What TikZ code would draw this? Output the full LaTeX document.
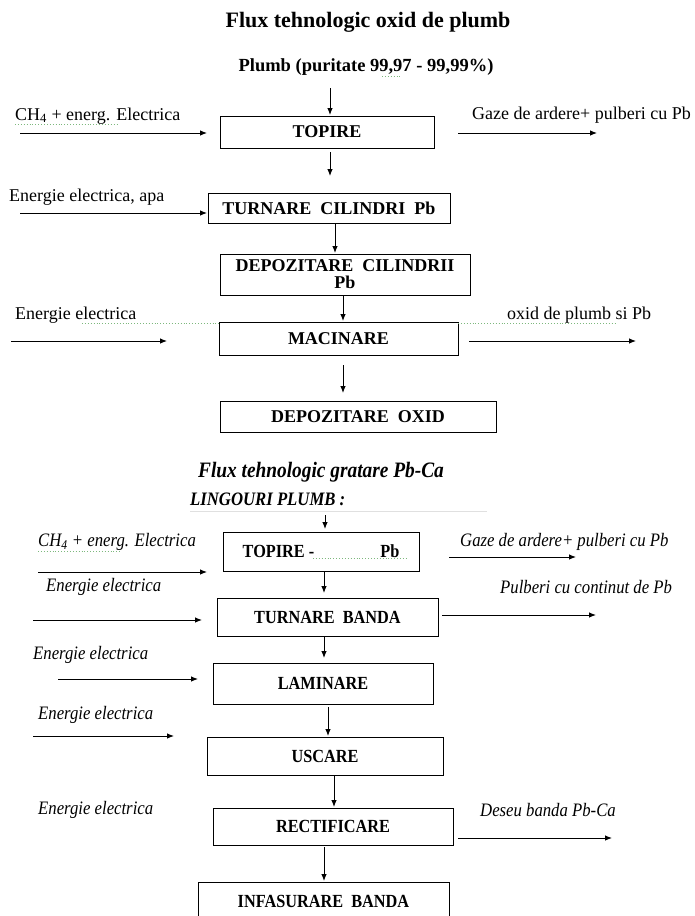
\documentclass[tikz,border=0pt]{standalone}
\usepackage{fontspec}
\setmainfont{Liberation Serif}
\newfontfamily\cond{Liberation Serif}[FakeStretch=0.88]
\usetikzlibrary{arrows.meta}
\definecolor{squig}{HTML}{7DB87D}
\tikzset{
  x=1pt, y=-1pt,
  boxa/.style={draw, line width=1pt, inner sep=0pt, align=center,
    font=\bfseries\fontsize{18}{17}\selectfont},
  boxb/.style={draw, line width=1pt, inner sep=0pt, align=center,
    font=\cond\bfseries\fontsize{18.5}{20}\selectfont},
  laba/.style={anchor=west, inner sep=0pt, font=\fontsize{18}{20}\selectfont},
  labb/.style={anchor=west, inner sep=0pt, font=\cond\itshape\fontsize{19}{21}\selectfont},
  arr/.style={-{Latex[length=7pt,width=5.5pt]}, line width=0.9pt},
  sq/.style={draw=squig, dotted, line width=0.9pt},
}
\begin{document}
\begin{tikzpicture}
\useasboundingbox[fill=white] (0,0) rectangle (694,916);

% ---------------- Section 1 ----------------
\node[inner sep=0pt, font=\bfseries\fontsize{22}{24}\selectfont] (t1) at (368,22) {Flux tehnologic oxid de plumb};
\node[inner sep=0pt, font=\bfseries\fontsize{18.5}{20}\selectfont] (pb) at (366,67) {Plumb (puritate 99,97 - 99,99\%)};
\draw[sq] (382,76) -- (401,76);

\node[boxa, minimum width=214pt, minimum height=32pt] (b1) at (327,132) {TOPIRE};
\node[boxa, minimum width=242pt, minimum height=30pt] (b2) at (329,208) {TURNARE\ \ CILINDRI\ \ Pb};
\node[boxa, minimum width=250pt, minimum height=41pt] (b3) at (345,274.5) {DEPOZITARE\ \ CILINDRII\\Pb};
\node[boxa, minimum width=239pt, minimum height=33pt] (b4) at (338.5,338.5) {MACINARE};
\node[boxa, minimum width=276pt, minimum height=31pt] (b5) at (358,416.5) {DEPOZITARE\ \ OXID};

\node[laba] (l1) at (15,116) {CH\textsubscript{4} + energ. Electrica};
\draw[sq] (15,124) -- (118,124);
\node[laba] (r1) at (472,115) {Gaze de ardere+ pulberi cu Pb};
\node[laba] (l2) at (9,197) {Energie electrica, apa};
\node[laba] (l3) at (15,315) {Energie electrica};
\draw[sq] (82,323) -- (219,323);
\node[laba] (r3) at (507,315) {oxid de plumb si Pb};
\draw[sq] (458,323) -- (617,323);

\coordinate (p1s) at (330,88);   \coordinate (p1e) at (330,115);
\coordinate (i1s) at (20,133);   \coordinate (i1e) at (207,133);
\coordinate (o1s) at (458,133);  \coordinate (o1e) at (597,133);
\coordinate (d1s) at (330,152);  \coordinate (d1e) at (330,176);
\coordinate (i2s) at (20,213);   \coordinate (i2e) at (207,213);
\coordinate (d2s) at (335,223);  \coordinate (d2e) at (335,253);
\coordinate (d3s) at (343,295);  \coordinate (d3e) at (343,321);
\coordinate (i3s) at (11,341);   \coordinate (i3e) at (167,341);
\coordinate (o3s) at (469,341);  \coordinate (o3e) at (636,341);
\coordinate (d4s) at (343,365);  \coordinate (d4e) at (343,393);

\draw[arr] (p1s) -- (p1e);
\draw[arr] (i1s) -- (i1e);
\draw[arr] (o1s) -- (o1e);
\draw[arr] (d1s) -- (d1e);
\draw[arr] (i2s) -- (i2e);
\draw[arr] (d2s) -- (d2e);
\draw[arr] (d3s) -- (d3e);
\draw[arr] (i3s) -- (i3e);
\draw[arr] (o3s) -- (o3e);
\draw[arr] (d4s) -- (d4e);

% ---------------- Section 2 ----------------
\node[inner sep=0pt, font=\cond\bfseries\itshape\fontsize{22}{24}\selectfont] (t2) at (321,472) {Flux tehnologic gratare Pb-Ca};
\node[anchor=west, inner sep=0pt, font=\cond\bfseries\itshape\fontsize{19}{21}\selectfont] (ling) at (190,499) {LINGOURI PLUMB :};
\draw[black!12, line width=1pt] (190,511) -- (487,511);

\node[boxb, minimum width=196pt, minimum height=39pt] (b6) at (321,551.5) {TOPIRE -\hspace*{66pt}Pb};
\draw[sq] (313,558) -- (408,558);
\node[boxb, minimum width=221pt, minimum height=38pt] (b7) at (327.5,617) {TURNARE\ \ BANDA};
\node[boxb, minimum width=220pt, minimum height=41pt] (b8) at (323,683.5) {LAMINARE};
\node[boxb, minimum width=236pt, minimum height=38pt] (b9) at (325,756) {USCARE};
\node[boxb, minimum width=240pt, minimum height=37pt] (b10) at (333,826.5) {RECTIFICARE};
\node[boxb, minimum width=251pt, minimum height=38pt] (b11) at (323.5,901) {INFASURARE\ \ BANDA};

\node[labb] (m1) at (38,542) {CH\textsubscript{4} + energ. Electrica};
\draw[sq] (38,551) -- (122,551);
\node[labb] (n1) at (460,542) {Gaze de ardere+ pulberi cu Pb};
\node[labb] (m2) at (46,587) {Energie electrica};
\node[labb] (n2) at (500,587) {Pulberi cu continut de Pb};
\node[labb] (m3) at (33,655) {Energie electrica};
\node[labb] (m4) at (38,715) {Energie electrica};
\node[labb] (m5) at (38,810) {Energie electrica};
\node[labb] (n5) at (480,810) {Deseu banda Pb-Ca};

\coordinate (q1s) at (325,515);  \coordinate (q1e) at (325,529);
\coordinate (j1s) at (38,572);   \coordinate (j1e) at (207,572);
\coordinate (k1s) at (449,557);  \coordinate (k1e) at (576,557);
\coordinate (e1s) at (324,571);  \coordinate (e1e) at (324,593);
\coordinate (j2s) at (33,620);   \coordinate (j2e) at (202,620);
\coordinate (k2s) at (442,615);  \coordinate (k2e) at (596,615);
\coordinate (e2s) at (324,636);  \coordinate (e2e) at (324,658);
\coordinate (j3s) at (58,679);   \coordinate (j3e) at (198,679);
\coordinate (e3s) at (328,707);  \coordinate (e3e) at (328,736);
\coordinate (j4s) at (33,736);   \coordinate (j4e) at (174,736);
\coordinate (e4s) at (334,775);  \coordinate (e4e) at (334,807);
\coordinate (k5s) at (458,838);  \coordinate (k5e) at (612,838);
\coordinate (e5s) at (324,847);  \coordinate (e5e) at (324,881);

\draw[arr] (q1s) -- (q1e);
\draw[arr] (j1s) -- (j1e);
\draw[arr] (k1s) -- (k1e);
\draw[arr] (e1s) -- (e1e);
\draw[arr] (j2s) -- (j2e);
\draw[arr] (k2s) -- (k2e);
\draw[arr] (e2s) -- (e2e);
\draw[arr] (j3s) -- (j3e);
\draw[arr] (e3s) -- (e3e);
\draw[arr] (j4s) -- (j4e);
\draw[arr] (e4s) -- (e4e);
\draw[arr] (k5s) -- (k5e);
\draw[arr] (e5s) -- (e5e);
\end{tikzpicture}
\end{document}
